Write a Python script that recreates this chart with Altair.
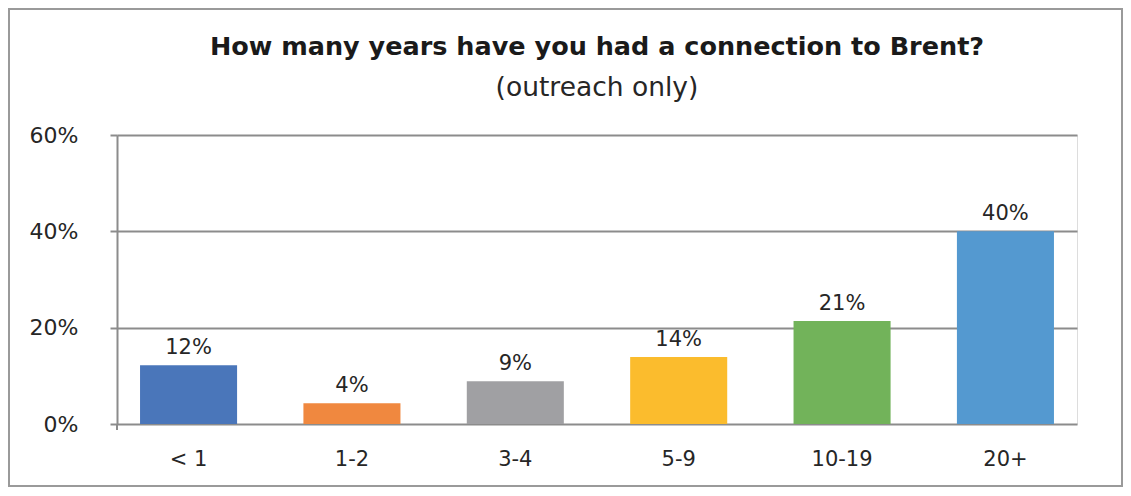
import altair as alt
import pandas as pd

categories = ["< 1", "1-2", "3-4", "5-9", "10-19", "20+"]
values = [0.122, 0.043, 0.089, 0.139, 0.214, 0.400]
colors = ["#4a76ba", "#f0883f", "#a0a0a3", "#fbbc2d", "#72b35a", "#5499d0"]
y_ticks = [0, 0.2, 0.4, 0.6]
title_text = "How many years have you had a connection to Brent?"
subtitle_text = "(outreach only)"

df = pd.DataFrame({"cat": categories, "val": values, "color": colors})

W, H = 960, 289
FONT = "DejaVu Sans"
GRID = "#8c8c8c"
TXT = "#262626"

x_enc = alt.X("cat:N", sort=categories, title=None,
              scale=alt.Scale(paddingInner=0.406, paddingOuter=0.141),
              axis=alt.Axis(labelAngle=0, labelFontSize=21, labelColor=TXT,
                            labelFont=FONT, labelPadding=24, ticks=False,
                            domain=False, grid=False))
y_enc = alt.Y("val:Q", title=None,
              scale=alt.Scale(domain=[0, 0.6]),
              axis=alt.Axis(values=y_ticks, format=".0%", labelFontSize=22,
                            labelColor=TXT, labelFont=FONT, labelPadding=32,
                            tickSize=7, tickColor=GRID, tickWidth=2,
                            grid=True, gridColor=GRID, gridWidth=2,
                            domain=True, domainColor=GRID, domainWidth=2))

bars = alt.Chart(df).mark_bar().encode(
    x=x_enc, y=y_enc,
    color=alt.Color("color:N", scale=None),
)

labels = alt.Chart(df).mark_text(baseline="bottom", dy=-7, fontSize=21,
                                 font=FONT, color=TXT).encode(
    x=alt.X("cat:N", sort=categories),
    y="val:Q",
    text=alt.Text("val:Q", format=".0%"),
)

left_tick = alt.Chart(df).mark_rule(color=GRID, strokeWidth=2).encode(
    x=alt.value(0), y=alt.value(H), y2=alt.value(H + 6)
)

border = alt.Chart(df).mark_rect(fill=None, stroke="#9a9a9a", strokeWidth=1.5).encode(
    x=alt.value(-108), x2=alt.value(1005), y=alt.value(-126), y2=alt.value(351)
)

title = alt.Chart(pd.DataFrame({"t": [title_text]})).mark_text(
    font=FONT, fontSize=25.5, fontWeight="bold", color="#1a1a1a", baseline="middle"
).encode(x=alt.value(W / 2), y=alt.value(-88), text="t:N")

subtitle = alt.Chart(pd.DataFrame({"t": [subtitle_text]})).mark_text(
    font=FONT, fontSize=26.5, color=TXT, baseline="middle"
).encode(x=alt.value(W / 2), y=alt.value(-47), text="t:N")

chart = alt.layer(border, bars, labels, left_tick, title, subtitle).properties(
    width=W, height=H,
    autosize=alt.AutoSizeParams(type="none"),
    padding={"left": 109, "top": 127, "right": 46, "bottom": 64},
).configure_view(stroke=None).configure(background="white")

chart.save("out.html", embed_options={"renderer": "svg", "actions": False})
